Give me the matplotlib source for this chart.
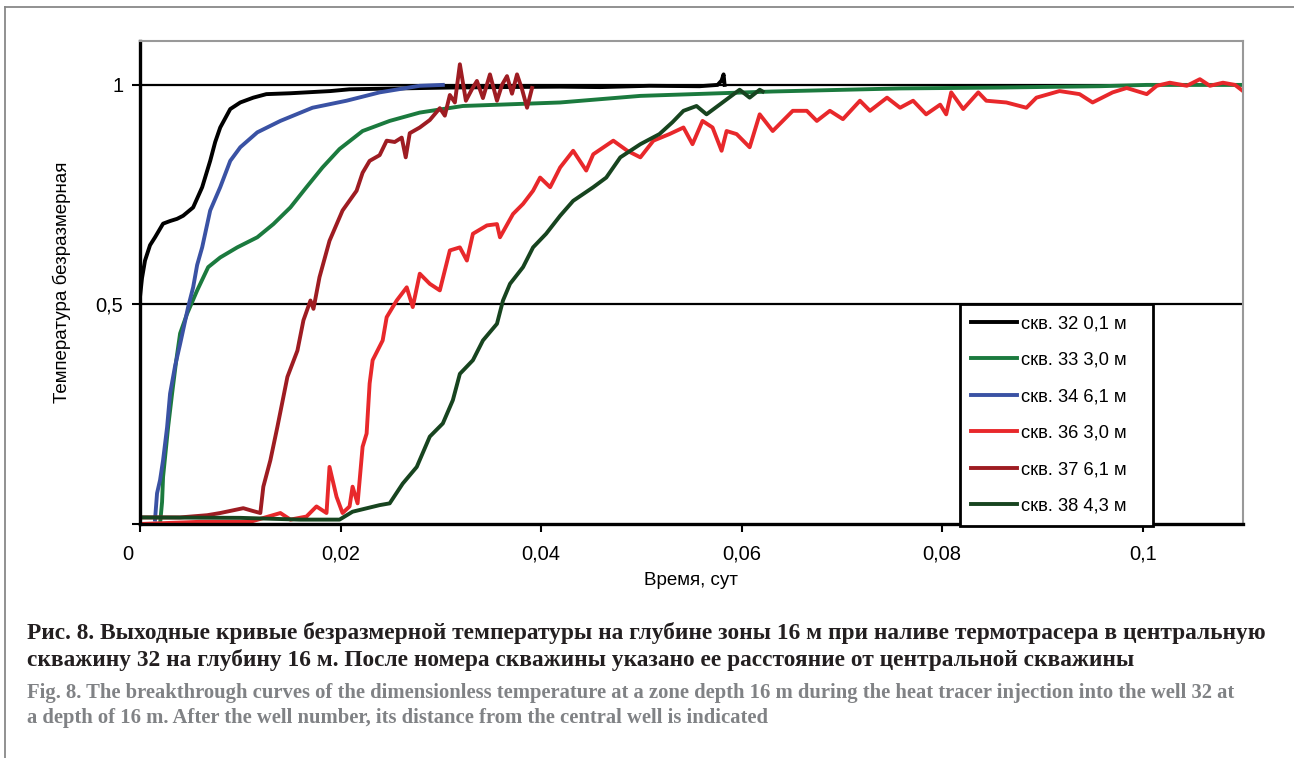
import matplotlib
matplotlib.use('Agg')
import matplotlib.pyplot as plt
import matplotlib.transforms as mtransforms
from matplotlib.lines import Line2D

# data: time (days) / dimensionless temperature
t32 = [0.0, 0.0002, 0.0005, 0.0010, 0.0015, 0.0023, 0.0030, 0.0037, 0.0043, 0.0053, 0.0062,
       0.0070, 0.0075, 0.0080, 0.0090, 0.0100, 0.0113, 0.0126, 0.0150, 0.0190, 0.0209, 0.0259,
       0.0309, 0.0359, 0.0419, 0.0459, 0.0508, 0.0558, 0.0576, 0.0580, 0.0582, 0.0583]
v32 = [0.517, 0.56, 0.60, 0.635, 0.653, 0.684, 0.69, 0.695, 0.702, 0.721, 0.767,
       0.827, 0.87, 0.903, 0.945, 0.96, 0.971, 0.979, 0.981, 0.986, 0.99, 0.992,
       0.994, 0.995, 0.996, 0.995, 0.998, 0.997, 1.0, 1.01, 1.024, 1.0]

t33 = [0.0020, 0.0022, 0.0023, 0.0028, 0.0032, 0.0036, 0.0040, 0.0047, 0.0057, 0.0068, 0.0080,
       0.0097, 0.0117, 0.0133, 0.0150, 0.0166, 0.0182, 0.0199, 0.0222, 0.0249, 0.0279, 0.0322,
       0.0419, 0.0499, 0.0631, 0.0758, 0.0857, 0.0957, 0.1004, 0.1100]
v33 = [0.0, 0.05, 0.107, 0.22, 0.297, 0.37, 0.434, 0.479, 0.532, 0.585, 0.607,
       0.63, 0.653, 0.683, 0.721, 0.767, 0.812, 0.854, 0.895, 0.918, 0.937, 0.952,
       0.96, 0.975, 0.985, 0.992, 0.994, 0.997, 1.0, 1.0]

t34 = [0.0015, 0.0017, 0.0020, 0.0023, 0.0027, 0.0030, 0.0035, 0.0040, 0.0048, 0.0053, 0.0057,
       0.0062, 0.0070, 0.0080, 0.0090, 0.0100, 0.0117, 0.0140, 0.0172, 0.0206, 0.0239, 0.0279,
       0.0302]
v34 = [0.01, 0.07, 0.10, 0.145, 0.22, 0.297, 0.36, 0.41, 0.494, 0.539, 0.59,
       0.63, 0.714, 0.767, 0.827, 0.858, 0.892, 0.918, 0.948, 0.964, 0.983, 0.998,
       1.0]

t36 = [0.0, 0.0060, 0.0110, 0.0140, 0.0150, 0.0166, 0.0176, 0.0186, 0.0189, 0.0196, 0.0202,
       0.0209, 0.0212, 0.0217, 0.0222, 0.0226, 0.0229, 0.0232, 0.0242, 0.0246, 0.0256, 0.0266,
       0.0272, 0.0279, 0.0289, 0.0299, 0.0309, 0.0319, 0.0326, 0.0332, 0.0346, 0.0356, 0.0359,
       0.0372, 0.0382, 0.0392, 0.0399, 0.0409, 0.0419, 0.0432, 0.0445, 0.0452, 0.0472, 0.0486,
       0.0499, 0.0512, 0.0528, 0.0542, 0.0551, 0.0561, 0.0571, 0.0580, 0.0585, 0.0595, 0.0608,
       0.0618, 0.0631, 0.0651, 0.0665, 0.0675, 0.0688, 0.0701, 0.0718, 0.0728, 0.0745, 0.0758,
       0.0771, 0.0784, 0.0798, 0.0804, 0.0809, 0.0821, 0.0836, 0.0844, 0.0864, 0.0884, 0.0894,
       0.0917, 0.0937, 0.0950, 0.0970, 0.0984, 0.1004, 0.1014, 0.1027, 0.1044, 0.1057, 0.1067,
       0.1080, 0.1092, 0.1100]
v36 = [0.0, 0.005, 0.005, 0.025, 0.01, 0.017, 0.04, 0.025, 0.13, 0.062, 0.025,
       0.04, 0.085, 0.047, 0.176, 0.206, 0.32, 0.373, 0.418, 0.471, 0.509, 0.539,
       0.494, 0.57, 0.547, 0.532, 0.623, 0.63, 0.60, 0.661, 0.68, 0.683, 0.653,
       0.706, 0.729, 0.759, 0.789, 0.767, 0.812, 0.85, 0.805, 0.842, 0.873, 0.85,
       0.835, 0.873, 0.888, 0.903, 0.865, 0.918, 0.903, 0.85, 0.895, 0.888, 0.858,
       0.933, 0.895, 0.941, 0.941, 0.918, 0.941, 0.922, 0.964, 0.941, 0.971, 0.948,
       0.964, 0.933, 0.955, 0.933, 0.983, 0.945, 0.983, 0.964, 0.96, 0.948, 0.971,
       0.986, 0.979, 0.96, 0.983, 0.993, 0.979, 0.998, 1.005, 0.998, 1.013, 0.998,
       1.005, 1.0, 0.986]

t37 = [0.0, 0.0040, 0.0067, 0.0080, 0.0103, 0.0112, 0.0120, 0.0123, 0.0130, 0.0137, 0.0147,
       0.0157, 0.0163, 0.0170, 0.0173, 0.0179, 0.0189, 0.0202, 0.0216, 0.0222, 0.0229, 0.0239,
       0.0246, 0.0254, 0.0261, 0.0265, 0.0269, 0.0279, 0.0289, 0.0299, 0.0304, 0.0309, 0.0314,
       0.0319, 0.0325, 0.0331, 0.0336, 0.0342, 0.0349, 0.0356, 0.0361, 0.0366, 0.0371, 0.0376,
       0.0381, 0.0386, 0.0391]
v37 = [0.015, 0.015, 0.02, 0.025, 0.036, 0.03, 0.025, 0.085, 0.145, 0.221, 0.335,
       0.395, 0.464, 0.509, 0.49, 0.562, 0.645, 0.714, 0.759, 0.80, 0.827, 0.84,
       0.873, 0.87, 0.88, 0.835, 0.89, 0.903, 0.92, 0.947, 0.93, 0.977, 0.96,
       1.047, 0.964, 0.99, 1.009, 0.97, 1.024, 0.964, 1.0, 1.02, 0.98, 1.024,
       0.99, 0.948, 0.993]

t38 = [0.0, 0.0100, 0.0160, 0.0199, 0.0212, 0.0239, 0.0249, 0.0262, 0.0276, 0.0289, 0.0302,
       0.0312, 0.0319, 0.0332, 0.0342, 0.0356, 0.0362, 0.0369, 0.0382, 0.0392, 0.0405, 0.0419,
       0.0432, 0.0452, 0.0465, 0.0479, 0.0499, 0.0518, 0.0531, 0.0542, 0.0555, 0.0565, 0.0578,
       0.0598, 0.0608, 0.0618, 0.0621]
v38 = [0.015, 0.014, 0.01, 0.01, 0.028, 0.043, 0.047, 0.092, 0.13, 0.199, 0.229,
       0.282, 0.342, 0.373, 0.418, 0.456, 0.509, 0.547, 0.585, 0.63, 0.661, 0.702,
       0.736, 0.767, 0.789, 0.835, 0.865, 0.888, 0.915, 0.941, 0.952, 0.933, 0.955,
       0.989, 0.971, 0.989, 0.985]

labels = ['скв. 32 0,1 м', 'скв. 33 3,0 м', 'скв. 34 6,1 м',
          'скв. 36 3,0 м', 'скв. 37 6,1 м', 'скв. 38 4,3 м']
colors = ['#000000', '#1b7a3e', '#3a52a4', '#e8282b', '#9e1c22', '#17441f']
series = [(t32, v32), (t33, v33), (t34, v34), (t36, v36), (t37, v37), (t38, v38)]

xticks = [0, 0.02, 0.04, 0.06, 0.08, 0.1]
xticklabels = ['0', '0,02', '0,04', '0,06', '0,08', '0,1']

caption_ru = ['Рис. 8. Выходные кривые безразмерной температуры на глубине зоны 16 м при наливе термотрасера в центральную',
              'скважину 32 на глубину 16 м. После номера скважины указано ее расстояние от центральной скважины']
caption_en = ['Fig. 8. The breakthrough curves of the dimensionless temperature at a zone depth 16 m during the heat tracer injection into the well 32 at',
              'a depth of 16 m. After the well number, its distance from the central well is indicated']

plt.rcParams['font.family'] = ['Liberation Sans', 'DejaVu Sans']

W, H = 1294, 758
fig = plt.figure(figsize=(W / 100, H / 100), dpi=100)
ax = fig.add_axes([140 / W, 1 - 524 / H, (1243 - 140) / W, (524 - 41) / H])

for y in (0.5, 1.0):
    ax.axhline(y, color='black', lw=1.6, zorder=1)

for (t, v), c, lab in zip(series, colors, labels):
    ax.plot(t, v, color=c, lw=2.8, label=lab, zorder=2, solid_joinstyle='round')

ax.set_xlim(0, 0.11)
ax.set_ylim(0, 1.1)
ax.set_xticks(xticks)
ax.set_xticklabels(xticklabels)
ax.set_yticks([0, 0.5, 1])
ax.set_yticklabels(['', '0,5', '1'])
ax.tick_params(axis='both', direction='out', length=6, width=1.5, labelsize=14.5, pad=6)
ax.tick_params(axis='x', pad=9)
# the "0" sits a bit left of the corner
lab0 = ax.get_xticklabels()[0]
lab0.set_transform(lab0.get_transform() + mtransforms.ScaledTranslation(-0.12, 0, fig.dpi_scale_trans))

for s in ('left', 'bottom'):
    ax.spines[s].set_linewidth(2.4)
    ax.spines[s].set_color('black')
for s in ('top', 'right'):
    ax.spines[s].set_linewidth(1.5)
    ax.spines[s].set_color('#999999')

ax.set_xlabel('Время, сут', fontsize=13.5, labelpad=6)
ax.set_ylabel('Температура безразмерная', fontsize=13.5, labelpad=18)

leg = ax.legend(loc='upper left',
                bbox_to_anchor=(960 / W, 1 - 521 / H, 193 / W, 217 / H),
                bbox_transform=fig.transFigure, mode='expand',
                borderaxespad=0, fontsize=13.2, handlelength=2.5, handletextpad=0.2,
                labelspacing=1.06, borderpad=0.62, fancybox=False, framealpha=1)
leg.get_frame().set_edgecolor('black')
leg.get_frame().set_linewidth(2.0)
leg.set_zorder(5)

# outer frame of the figure
fig.add_artist(Line2D([5 / W, 5 / W], [0, 1 - 7 / H], color='#888888', lw=1.3, transform=fig.transFigure))
fig.add_artist(Line2D([5 / W, 1], [1 - 7 / H, 1 - 7 / H], color='#888888', lw=1.3, transform=fig.transFigure))

for i, line in enumerate(caption_ru):
    fig.text(27 / W, 1 - (633 + 27 * i) / H, line, fontsize=16.8, fontweight='bold',
             family='Liberation Serif', color='#231f20', va='center', ha='left')
for i, line in enumerate(caption_en):
    fig.text(27 / W, 1 - (693 + 25 * i) / H, line, fontsize=14.85, fontweight='bold',
             family='Liberation Serif', color='#808285', va='center', ha='left')

fig.savefig('out.png', dpi=100)
